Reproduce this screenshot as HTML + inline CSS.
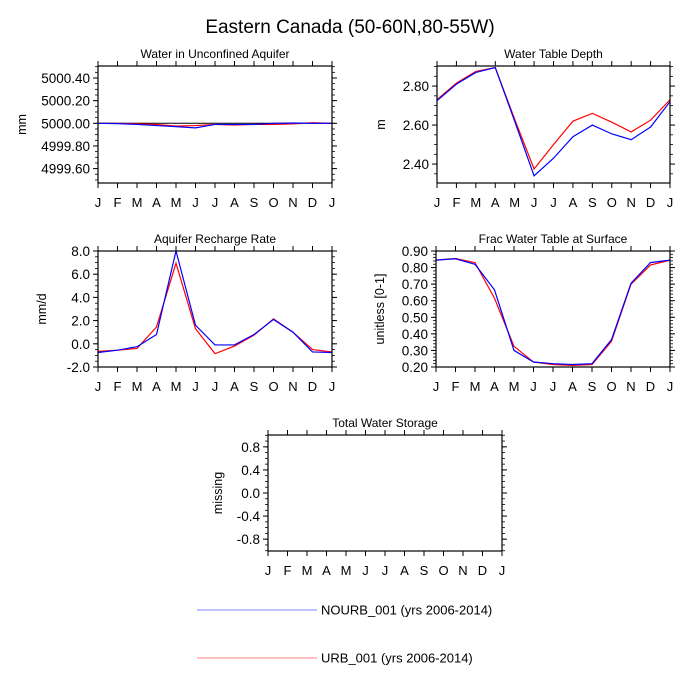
<!DOCTYPE html>
<html><head><meta charset="utf-8"><style>
html,body{margin:0;padding:0;background:#fff;}
svg{display:block;font-family:"Liberation Sans",sans-serif;}
</style></head><body>
<svg id="chart" width="700" height="700" viewBox="0 0 700 700" xmlns="http://www.w3.org/2000/svg">
<text x="350" y="33" font-size="19" text-anchor="middle">Eastern Canada (50-60N,80-55W)</text>
<g>
<line x1="197" y1="610" x2="317" y2="610" stroke="#8080ff" stroke-width="1"/>
<text x="321" y="614.5" font-size="13">NOURB_001 (yrs 2006-2014)</text>
<line x1="197" y1="658" x2="317" y2="658" stroke="#ff8080" stroke-width="1"/>
<text x="321" y="662.5" font-size="13">URB_001 (yrs 2006-2014)</text>
</g>
</svg>
<script>
const months = ["J","F","M","A","M","J","J","A","S","O","N","D","J"];

const aqBlue = [5000.0,4999.997,4999.99,4999.98,4999.97,4999.96,4999.99,4999.99,4999.99,5000.0,5000.003,5000.0,5000.0];
const aqRed  = [5000.0,5000.0,4999.995,4999.99,4999.975,4999.98,4999.99,4999.985,4999.99,4999.99,4999.995,5000.005,5000.0];
const aqTicks = [5000.4,5000.2,5000.0,4999.8,4999.6];
const aqTickLabels = ["5000.40","5000.20","5000.00","4999.80","4999.60"];

const wtdBlue = [2.725,2.81,2.87,2.895,2.62,2.34,2.43,2.54,2.60,2.555,2.525,2.59,2.72];
const wtdRed  = [2.73,2.815,2.875,2.895,2.63,2.375,2.50,2.62,2.66,2.615,2.565,2.625,2.73];
const wtdTicks = [2.8,2.6,2.4];
const wtdTickLabels = ["2.80","2.60","2.40"];

const rchBlue = [-0.75,-0.55,-0.25,0.8,8.0,1.6,-0.1,-0.1,0.8,2.1,1.0,-0.7,-0.75];
const rchRed  = [-0.65,-0.55,-0.4,1.45,6.95,1.3,-0.85,-0.2,0.75,2.15,1.0,-0.5,-0.7];
const rchTicks = [8,6,4,2,0,-2];
const rchTickLabels = ["8.0","6.0","4.0","2.0","0.0","-2.0"];

const fwtBlue = [0.845,0.853,0.82,0.665,0.30,0.23,0.22,0.215,0.22,0.365,0.705,0.83,0.845];
const fwtRed  = [0.845,0.855,0.83,0.615,0.325,0.23,0.215,0.21,0.215,0.355,0.70,0.815,0.845];
const fwtTicks = [0.9,0.8,0.7,0.6,0.5,0.4,0.3,0.2];
const fwtTickLabels = ["0.90","0.80","0.70","0.60","0.50","0.40","0.30","0.20"];

const twsTicks = [0.8,0.4,0.0,-0.4,-0.8];
const twsTickLabels = ["0.8","0.4","0.0","-0.4","-0.8"];

const NS = "http://www.w3.org/2000/svg";
const svg = document.getElementById("chart");
function mk(tag, attrs, parent){
  const e = document.createElementNS(NS, tag);
  for (const k in attrs) e.setAttribute(k, attrs[k]);
  parent.appendChild(e);
  return e;
}

function panel(p){
  const g = mk("g", {}, svg);
  
  
  const xs = i => p.x0 + (p.x1 - p.x0) * i / 12;
  const ys = v => p.y1 - (p.y1 - p.y0) * (v - p.vmin) / (p.vmax - p.vmin);
  const t = mk("text", {x:(p.x0+p.x1)/2, y:p.y0-8, "font-size":12, "text-anchor":"middle"}, g);
  t.textContent = p.title;
  
  
  const startM = Math.ceil((p.vmin - 1e-9) / p.minor);
  for (let k = startM; k * p.minor <= p.vmax + 1e-9; k++){
    const yy = ys(k * p.minor);
    mk("line", {x1:p.x0-3, y1:yy, x2:p.x0, y2:yy, stroke:"#000", "stroke-width":0.8}, g);
    mk("line", {x1:p.x1, y1:yy, x2:p.x1+3, y2:yy, stroke:"#000", "stroke-width":0.8}, g);
  }
  p.ticks.forEach((v, i) => {
    const yy = ys(v);
    mk("line", {x1:p.x0-5, y1:yy, x2:p.x0, y2:yy, stroke:"#000", "stroke-width":1}, g);
    mk("line", {x1:p.x1, y1:yy, x2:p.x1+5, y2:yy, stroke:"#000", "stroke-width":1}, g);
    const tl = mk("text", {x:p.x0-8, y:yy+5, "font-size":13.5, "text-anchor":"end"}, g);
    tl.textContent = p.labels[i];
    
    
  });
  if (p.zeroLine) {
    const yz = ys(p.zeroLine);
    mk("line", {x1:p.x0, y1:yz, x2:p.x1, y2:yz, stroke:"#000", "stroke-width":1}, g);
  }
  months.forEach((m, i) => {
    const xx = xs(i);
    mk("line", {x1:xx, y1:p.y0-5, x2:xx, y2:p.y0, stroke:"#000", "stroke-width":1}, g);
    mk("line", {x1:xx, y1:p.y1, x2:xx, y2:p.y1+5, stroke:"#000", "stroke-width":1}, g);
    if (p.showMonths){
      const ml = mk("text", {x:xx, y:p.y1+24, "font-size":13, "text-anchor":"middle"}, g);
      ml.textContent = m;
      
      
    }
  });
  const ytx = p.x0 - p.ytOff;
  const yt = mk("text", {x:ytx, y:(p.y0+p.y1)/2, "font-size":12.5, "text-anchor":"middle", transform:`rotate(-90 ${ytx} ${(p.y0+p.y1)/2})`}, g);
  yt.textContent = p.ytitle;
  
  
  const series = [[p.red, "#ff0000", "series-urb"], [p.blue, "#0000ff", "series-nourb"]];
  series.forEach(s => {
    if (!s[0]) return;
    const pts = s[0].map((v, i) => xs(i).toFixed(2) + "," + ys(v).toFixed(2)).join(" ");
    const pl = mk("polyline", {points:pts, fill:"none", stroke:s[1], "stroke-width":1.2}, g);
    
    
  });
  const fr = mk("rect", {x:p.x0, y:p.y0, width:p.x1-p.x0, height:p.y1-p.y0, fill:"none", stroke:"#000", "stroke-width":1.2}, g);
  
  
}

panel({name:"panel-water-unconfined-aquifer", title:"Water in Unconfined Aquifer", x0:98, x1:332, y0:66, y1:183,
  vmin:4999.473, vmax:5000.506, ticks:aqTicks, labels:aqTickLabels, minor:0.05, ytitle:"mm", ytOff:72,
  blue:aqBlue, red:aqRed, showMonths:true, zeroLine:5000.0});
panel({name:"panel-water-table-depth", title:"Water Table Depth", x0:437, x1:670, y0:66, y1:183,
  vmin:2.303, vmax:2.903, ticks:wtdTicks, labels:wtdTickLabels, minor:0.05, ytitle:"m", ytOff:52,
  blue:wtdBlue, red:wtdRed, showMonths:true});
panel({name:"panel-aquifer-recharge", title:"Aquifer Recharge Rate", x0:98, x1:332, y0:251, y1:367,
  vmin:-2, vmax:8, ticks:rchTicks, labels:rchTickLabels, minor:0.5, ytitle:"mm/d", ytOff:52,
  blue:rchBlue, red:rchRed, showMonths:true});
panel({name:"panel-frac-water-table", title:"Frac Water Table at Surface", x0:436, x1:670, y0:251, y1:367,
  vmin:0.2, vmax:0.9, ticks:fwtTicks, labels:fwtTickLabels, minor:0.02, ytitle:"unitless [0-1]", ytOff:52,
  blue:fwtBlue, red:fwtRed, showMonths:true});
panel({name:"panel-total-water-storage", title:"Total Water Storage", x0:268, x1:502, y0:435, y1:551,
  vmin:-1.005, vmax:1.005, ticks:twsTicks, labels:twsTickLabels, minor:0.1, ytitle:"missing", ytOff:46,
  blue:null, red:null, showMonths:true});
</script>
</body></html>
